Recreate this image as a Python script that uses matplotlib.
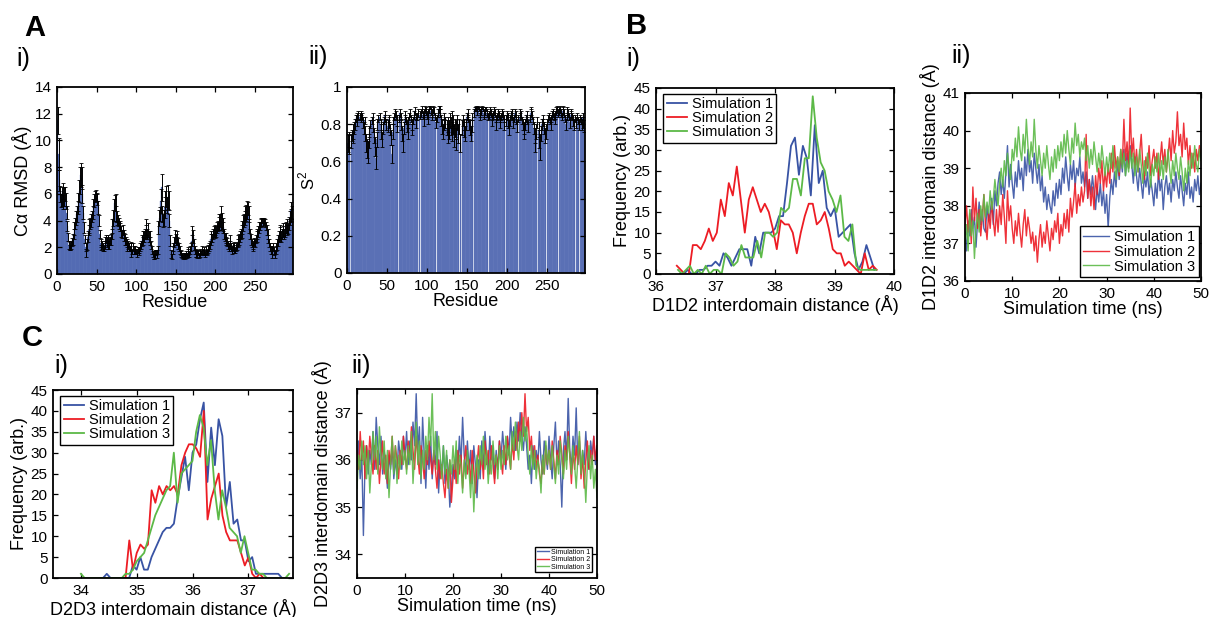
import numpy as np
import matplotlib
matplotlib.use("Agg")
import matplotlib.pyplot as plt

plt.rcParams['font.family'] = ['Liberation Sans', 'DejaVu Sans']
plt.rcParams['mathtext.fontset'] = 'custom'
plt.rcParams['mathtext.rm'] = 'Liberation Sans'

# ---- data: A i) C-alpha RMSD per residue ----
rmsd = [11.5, 9.0, 7.0, 6.0, 5.5, 5.8, 6.2, 5.4, 5.8, 6.0,
        5.5, 4.6, 3.6, 2.8, 2.2, 2.0, 2.1, 2.2, 2.4, 2.6,
        3.0, 3.4, 3.8, 4.2, 4.5, 5.0, 5.4, 6.2, 7.0, 7.4,
        7.2, 6.0, 4.6, 3.5, 2.6, 2.0, 1.6, 2.2, 2.8, 3.3,
        3.6, 3.8, 4.0, 4.3, 4.6, 5.0, 5.5, 5.8, 5.9, 5.8,
        5.6, 5.0, 4.0, 3.0, 2.3, 2.0, 2.2, 2.0, 1.9, 2.2,
        2.5, 2.6, 2.4, 2.6, 2.2, 2.3, 2.5, 2.6, 3.0, 3.6,
        4.2, 4.8, 5.3, 5.0, 4.5, 4.2, 4.0, 3.8, 3.6, 3.5,
        3.2, 3.0, 3.3, 3.0, 2.8, 2.6, 2.5, 2.3, 2.0, 2.2,
        2.0, 1.9, 2.1, 1.8, 1.7, 2.0, 1.8, 1.7, 1.8, 1.7,
        1.6, 1.8, 1.7, 1.8, 2.0, 2.2, 2.5, 2.8, 2.5, 2.8,
        3.0, 3.2, 3.5, 3.0, 3.3, 2.8, 2.5, 2.8, 2.2, 1.8,
        1.5, 1.4, 1.3, 1.5, 1.6, 1.5, 1.8, 3.5, 4.2, 4.5,
        5.5, 6.5, 4.5, 4.0, 4.2, 5.0, 5.5, 5.8, 5.2, 5.8,
        5.5, 4.0, 2.5, 1.5, 1.3, 1.8, 2.0, 2.4, 2.8, 2.6,
        2.8, 2.5, 2.3, 2.0, 1.8, 1.6, 1.5, 1.4, 1.3, 1.4,
        1.4, 1.3, 1.5, 1.4, 1.6, 1.7, 1.5, 1.8, 2.0, 2.5,
        3.0, 2.8, 2.2, 1.8, 1.6, 1.5, 1.5, 1.6, 1.4, 1.5,
        1.7, 1.6, 1.8, 1.7, 1.6, 1.7, 1.5, 1.8, 1.6, 1.7,
        1.9, 2.0, 2.2, 2.6, 2.8, 2.7, 3.0, 3.2, 3.0, 3.3,
        3.2, 3.5, 3.6, 3.8, 3.9, 4.0, 4.2, 4.0, 3.7, 3.5,
        3.0, 2.8, 2.5, 2.7, 2.4, 2.2, 2.0, 2.2, 2.5, 2.0,
        1.8, 2.0, 2.1, 1.9, 1.8, 2.0, 2.1, 2.3, 2.5, 2.6,
        2.8, 3.0, 3.2, 3.5, 3.8, 4.0, 4.2, 4.5, 4.6, 4.8,
        4.9, 4.5, 3.6, 3.0, 2.6, 2.3, 2.0, 2.2, 2.4, 2.3,
        2.6, 2.8, 3.0, 3.2, 3.5, 3.6, 3.8, 3.9, 4.0, 3.9,
        4.0, 3.9, 3.8, 3.6, 3.3, 3.0, 2.6, 2.3, 2.0, 1.8,
        1.6, 1.8, 2.0, 1.7, 1.5, 1.8, 2.0, 2.2, 2.5, 2.8,
        3.0, 3.2, 2.8, 3.0, 3.3, 3.2, 3.0, 3.3, 3.5, 3.3,
        3.6, 3.4, 3.8, 4.2, 4.8, 4.4, 4.6]
rmsd_err = [1.0, 1.2, 0.8, 0.6, 0.5, 0.7, 0.6, 0.5, 0.7, 0.5,
            0.6, 0.5, 0.4, 0.3, 0.3, 0.2, 0.3, 0.3, 0.3, 0.4,
            0.4, 0.5, 0.4, 0.5, 0.6, 0.5, 0.7, 0.8, 1.0, 0.9,
            0.8, 0.7, 0.5, 0.4, 0.3, 0.3, 0.3, 0.4, 0.4, 0.4,
            0.5, 0.4, 0.5, 0.4, 0.5, 0.6, 0.5, 0.4, 0.4, 0.3,
            0.4, 0.5, 0.4, 0.3, 0.3, 0.2, 0.3, 0.3, 0.2, 0.3,
            0.3, 0.3, 0.4, 0.3, 0.3, 0.4, 0.3, 0.4, 0.4, 0.5,
            0.6, 0.8, 0.6, 1.0, 0.6, 0.5, 0.4, 0.4, 0.4, 0.3,
            0.4, 0.3, 0.4, 0.3, 0.3, 0.4, 0.3, 0.3, 0.3, 0.3,
            0.3, 0.2, 0.3, 0.5, 0.2, 0.3, 0.3, 0.2, 0.3, 0.2,
            0.3, 0.2, 0.3, 0.2, 0.3, 0.3, 0.4, 0.4, 0.3, 0.4,
            0.4, 0.5, 0.6, 0.4, 0.5, 0.4, 0.3, 0.4, 0.3, 0.3,
            0.2, 0.3, 0.2, 0.3, 0.2, 0.3, 0.3, 0.5, 0.6, 0.5,
            0.9, 1.0, 0.6, 0.5, 0.6, 0.8, 0.7, 0.8, 0.6, 0.9,
            0.7, 0.5, 0.4, 0.3, 0.2, 0.3, 0.3, 0.4, 0.5, 0.4,
            0.4, 0.3, 0.4, 0.3, 0.3, 0.2, 0.2, 0.2, 0.2, 0.2,
            0.2, 0.2, 0.2, 0.2, 0.3, 0.3, 0.2, 0.3, 0.3, 0.4,
            0.6, 0.5, 0.4, 0.3, 0.3, 0.2, 0.3, 0.2, 0.2, 0.2,
            0.2, 0.2, 0.3, 0.2, 0.2, 0.3, 0.2, 0.3, 0.2, 0.2,
            0.3, 0.3, 0.3, 0.4, 0.4, 0.3, 0.4, 0.4, 0.3, 0.4,
            0.4, 0.4, 0.4, 0.5, 0.6, 0.5, 0.9, 0.6, 0.5, 0.4,
            0.4, 0.3, 0.3, 0.4, 0.3, 0.3, 0.3, 0.3, 0.4, 0.3,
            0.3, 0.3, 0.3, 0.3, 0.2, 0.3, 0.3, 0.3, 0.4, 0.4,
            0.4, 0.4, 0.5, 0.5, 0.6, 0.5, 0.5, 0.6, 0.6, 0.7,
            0.5, 0.6, 0.5, 0.4, 0.4, 0.3, 0.3, 0.3, 0.3, 0.3,
            0.3, 0.4, 0.4, 0.4, 0.4, 0.3, 0.3, 0.3, 0.2, 0.3,
            0.2, 0.2, 0.3, 0.3, 0.4, 0.4, 0.3, 0.3, 0.3, 0.3,
            0.4, 0.3, 0.3, 0.3, 0.3, 0.3, 0.3, 0.4, 0.4, 0.4,
            0.5, 0.5, 0.4, 0.4, 0.5, 0.4, 0.4, 0.5, 0.4, 0.4,
            0.5, 0.4, 0.5, 0.5, 0.6, 0.5, 0.5]

# ---- data: A ii) order parameter S2 per residue (0 = no value) ----
s2 = [0.70, 0.72, 0.69, 0.00, 0.71, 0.74, 0.76, 0.73, 0.78, 0.80,
      0.83, 0.84, 0.82, 0.85, 0.00, 0.84, 0.83, 0.85, 0.84, 0.81,
      0.78, 0.82, 0.75, 0.70, 0.67, 0.65, 0.71, 0.76, 0.80, 0.00,
      0.82, 0.84, 0.79, 0.74, 0.68, 0.62, 0.72, 0.80, 0.83, 0.00,
      0.84, 0.80, 0.76, 0.72, 0.78, 0.82, 0.85, 0.83, 0.80, 0.00,
      0.79, 0.83, 0.81, 0.77, 0.73, 0.64, 0.76, 0.82, 0.84, 0.86,
      0.85, 0.82, 0.79, 0.00, 0.83, 0.86, 0.84, 0.80, 0.75, 0.70,
      0.78, 0.83, 0.85, 0.82, 0.79, 0.76, 0.81, 0.84, 0.86, 0.83,
      0.80, 0.77, 0.82, 0.85, 0.87, 0.84, 0.81, 0.84, 0.86, 0.00,
      0.85, 0.00, 0.86, 0.88, 0.85, 0.82, 0.86, 0.88, 0.87, 0.85,
      0.83, 0.86, 0.88, 0.89, 0.87, 0.84, 0.86, 0.88, 0.87, 0.84,
      0.81, 0.00, 0.83, 0.86, 0.88, 0.89, 0.86, 0.82, 0.79, 0.76,
      0.80, 0.84, 0.81, 0.00, 0.78, 0.75, 0.80, 0.77, 0.82, 0.79,
      0.76, 0.83, 0.80, 0.74, 0.78, 0.72, 0.77, 0.81, 0.75, 0.79,
      0.00, 0.70, 0.00, 0.78, 0.82, 0.80, 0.77, 0.75, 0.80, 0.84,
      0.86, 0.83, 0.80, 0.78, 0.75, 0.79, 0.84, 0.00, 0.86, 0.88,
      0.89, 0.88, 0.87, 0.89, 0.88, 0.86, 0.84, 0.87, 0.89, 0.88,
      0.86, 0.85, 0.87, 0.88, 0.86, 0.84, 0.00, 0.85, 0.87, 0.86,
      0.84, 0.82, 0.85, 0.87, 0.86, 0.83, 0.80, 0.84, 0.86, 0.85,
      0.83, 0.81, 0.84, 0.86, 0.85, 0.83, 0.80, 0.00, 0.82, 0.85,
      0.84, 0.81, 0.78, 0.82, 0.85, 0.86, 0.84, 0.81, 0.83, 0.86,
      0.85, 0.82, 0.79, 0.83, 0.00, 0.84, 0.86, 0.85, 0.82, 0.80,
      0.78, 0.76, 0.80, 0.83, 0.85, 0.82, 0.79, 0.00, 0.83, 0.86,
      0.87, 0.85, 0.82, 0.78, 0.74, 0.70, 0.76, 0.81, 0.00, 0.77,
      0.72, 0.68, 0.75, 0.80, 0.83, 0.81, 0.78, 0.74, 0.76, 0.00,
      0.80, 0.83, 0.84, 0.82, 0.80, 0.83, 0.85, 0.86, 0.84, 0.82,
      0.85, 0.87, 0.88, 0.86, 0.00, 0.87, 0.88, 0.86, 0.84, 0.87,
      0.88, 0.86, 0.83, 0.80, 0.84, 0.87, 0.86, 0.84, 0.81, 0.85,
      0.86, 0.84, 0.82, 0.80, 0.83, 0.00, 0.81, 0.84, 0.82, 0.80,
      0.00, 0.83, 0.82, 0.80, 0.84, 0.81, 0.79]
s2_err = [0.05, 0.04, 0.05, 0, 0.04, 0.03, 0.04, 0.03, 0.03, 0.03,
          0.02, 0.02, 0.03, 0.02, 0, 0.02, 0.02, 0.02, 0.02, 0.03,
          0.03, 0.02, 0.04, 0.05, 0.05, 0.06, 0.04, 0.03, 0.02, 0,
          0.02, 0.02, 0.03, 0.04, 0.05, 0.06, 0.04, 0.03, 0.02, 0,
          0.02, 0.03, 0.04, 0.04, 0.03, 0.02, 0.02, 0.02, 0.03, 0,
          0.03, 0.02, 0.03, 0.03, 0.04, 0.05, 0.04, 0.02, 0.02, 0.02,
          0.02, 0.03, 0.03, 0, 0.02, 0.02, 0.02, 0.03, 0.04, 0.05,
          0.03, 0.02, 0.02, 0.02, 0.03, 0.04, 0.03, 0.02, 0.02, 0.02,
          0.03, 0.03, 0.02, 0.02, 0.02, 0.02, 0.03, 0.02, 0.02, 0,
          0.02, 0, 0.02, 0.02, 0.02, 0.03, 0.02, 0.02, 0.02, 0.02,
          0.03, 0.02, 0.02, 0.01, 0.02, 0.02, 0.02, 0.02, 0.02, 0.02,
          0.03, 0, 0.02, 0.02, 0.02, 0.01, 0.02, 0.03, 0.04, 0.04,
          0.03, 0.02, 0.03, 0, 0.04, 0.05, 0.04, 0.05, 0.04, 0.05,
          0.05, 0.04, 0.05, 0.06, 0.05, 0.06, 0.05, 0.04, 0.05, 0.04,
          0, 0.05, 0, 0.04, 0.03, 0.03, 0.04, 0.04, 0.03, 0.02,
          0.02, 0.02, 0.03, 0.04, 0.04, 0.03, 0.02, 0, 0.02, 0.01,
          0.01, 0.01, 0.02, 0.01, 0.01, 0.02, 0.02, 0.02, 0.01, 0.01,
          0.02, 0.02, 0.02, 0.01, 0.02, 0.02, 0, 0.02, 0.02, 0.02,
          0.02, 0.03, 0.02, 0.02, 0.02, 0.02, 0.03, 0.02, 0.02, 0.02,
          0.02, 0.03, 0.02, 0.02, 0.02, 0.02, 0.03, 0, 0.03, 0.02,
          0.02, 0.03, 0.04, 0.03, 0.02, 0.02, 0.02, 0.03, 0.02, 0.02,
          0.02, 0.02, 0.03, 0.02, 0, 0.02, 0.02, 0.02, 0.02, 0.03,
          0.03, 0.04, 0.03, 0.02, 0.02, 0.02, 0.03, 0, 0.02, 0.02,
          0.02, 0.02, 0.02, 0.03, 0.04, 0.05, 0.04, 0.03, 0, 0.04,
          0.05, 0.07, 0.04, 0.03, 0.02, 0.02, 0.03, 0.04, 0.04, 0,
          0.03, 0.02, 0.02, 0.02, 0.03, 0.02, 0.02, 0.02, 0.02, 0.02,
          0.02, 0.02, 0.02, 0.02, 0, 0.02, 0.02, 0.02, 0.02, 0.02,
          0.02, 0.02, 0.02, 0.03, 0.02, 0.02, 0.02, 0.02, 0.03, 0.02,
          0.02, 0.02, 0.03, 0.03, 0.02, 0, 0.03, 0.02, 0.02, 0.03,
          0, 0.02, 0.02, 0.03, 0.02, 0.03, 0.03]

# ---- data: B i) D1D2 distance histograms (first/last bin centre, counts) ----
b_hist_range = {'sim1': (36.40, 39.67), 'sim2': (36.35, 39.71), 'sim3': (36.37, 39.70)}
b_hist_sim1 = [0, 0, 1, 0, 0, 1, 1, 2, 2, 3, 2, 5, 4, 2, 4, 6, 6, 6, 2, 9,
               5, 10, 10, 10, 11, 14, 14, 22, 31, 33, 24, 31, 28, 19, 36, 22, 25, 16, 14, 16,
               9, 10, 11, 12, 5, 1, 3, 7, 4, 1]
b_hist_sim2 = [2, 1, 0, 0, 7, 7, 6, 8, 11, 8, 10, 18, 14, 22, 19, 26, 18, 10, 18, 21,
               18, 15, 17, 15, 11, 6, 13, 12, 12, 10, 5, 10, 14, 17, 17, 12, 13, 15, 11, 6,
               5, 5, 2, 3, 2, 1, 0, 5, 1, 2, 1]
b_hist_sim3 = [1, 0, 1, 2, 0, 1, 0, 2, 0, 1, 1, 0, 5, 4, 2, 3, 7, 4, 4, 4,
               8, 4, 10, 10, 9, 10, 16, 15, 16, 23, 23, 19, 28, 28, 43, 33, 27, 25, 20, 18,
               15, 19, 9, 8, 12, 2, 1, 1, 1, 1, 1]

# ---- data: C i) D2D3 distance histograms ----
c_hist_range = {'sim1': (34.33, 37.67), 'sim2': (34.80, 37.27), 'sim3': (34.00, 37.73)}
c_hist_sim1 = [0, 0, 1, 0, 0, 0, 0, 0, 0, 3, 2, 5, 2, 2, 5, 7, 9, 11, 12, 12,
               13, 19, 24, 29, 21, 30, 32, 38, 42, 23, 36, 27, 38, 34, 17, 23, 13, 14, 9, 9,
               4, 5, 1, 1, 1, 1, 1, 1, 1, 0, 0]
c_hist_sim2 = [0, 9, 2, 6, 8, 7, 8, 21, 18, 22, 20, 22, 21, 22, 20, 27, 30, 32, 32, 31,
               29, 40, 14, 19, 22, 25, 15, 11, 9, 9, 9, 6, 3, 5, 1, 0, 1, 0]
c_hist_sim3 = [1, 0, 0, 0, 0, 0, 0, 0, 0, 0, 0, 0, 1, 1, 2, 4, 5, 6, 9, 12,
               15, 17, 19, 21, 22, 30, 18, 25, 26, 27, 28, 35, 39, 36, 27, 33, 21, 14, 21, 17,
               12, 11, 10, 6, 10, 6, 2, 2, 1, 1, 0, 0, 0, 0, 0, 0, 1]

# ---- data: B ii) D1D2 distance vs time (0-50 ns) ----
b_time_sim1 = [37.3, 36.8, 37.6, 37.2, 37.9, 37.4, 37.7, 36.9, 37.6, 38.1, 37.5, 37.9, 37.4, 37.3, 38.0, 37.6,
               37.8, 38.2, 37.5, 38.4, 38.0, 38.6, 38.9, 38.3, 38.7, 38.2, 38.9, 39.6, 38.5, 39.1, 38.6,
               38.2, 38.9, 38.5, 39.2, 38.7, 39.0, 38.4, 39.3, 38.8, 39.5, 38.9, 39.2, 38.6, 39.4, 39.0,
               38.6, 39.1, 38.4, 38.8, 38.1, 38.5, 37.9, 38.3, 38.0, 37.8, 38.4, 38.0, 38.6, 38.2, 38.7,
               38.3, 39.0, 38.6, 39.3, 38.8, 38.4, 39.1, 38.7, 39.2, 38.5, 39.0, 38.8, 39.3, 38.6, 38.9,
               38.5, 38.9, 38.2, 38.7, 38.3, 38.8, 38.4, 37.9, 38.5, 38.1, 38.6, 38.0, 38.4, 37.8, 38.3,
               37.4, 38.2, 38.7, 38.3, 38.9, 38.5, 39.2, 38.7, 39.3, 38.9, 39.5, 38.8, 39.4, 39.0, 39.6,
               39.1, 38.6, 39.3, 38.8, 38.4, 39.0, 38.6, 38.2, 38.8, 38.5, 38.9, 38.3, 38.7, 38.4, 38.0,
               38.6, 38.2, 38.9, 38.4, 38.7, 37.9, 38.5, 38.8, 38.3, 38.6, 38.1, 38.7, 38.4, 38.9, 38.5,
               38.2, 38.8, 38.4, 38.0, 38.6, 38.3, 38.9, 38.2, 38.5, 38.1, 38.7, 38.4, 38.8, 38.3, 38.6]
b_time_sim2 = [37.5, 38.0, 37.3, 37.8, 37.0, 38.5, 37.6, 38.2, 37.4, 37.9, 37.2, 37.7, 38.3, 37.5, 37.1, 37.8,
               37.4, 38.1, 37.6, 37.2, 37.9, 37.3, 38.0, 37.5, 38.3, 37.7, 37.0, 38.4, 37.6, 38.0, 37.4,
               37.0, 37.6, 37.2, 37.8, 37.3, 36.9, 37.5, 37.9, 37.2, 37.7, 37.4, 37.0, 37.3, 36.8, 37.2,
               36.5, 37.1, 37.5, 36.9, 37.3, 37.0, 37.6, 37.2, 36.8, 37.4, 37.1, 37.6, 37.3, 37.8, 37.0,
               37.5, 37.2, 37.8, 37.4, 37.9, 37.3, 38.2, 37.7, 38.1, 38.6, 37.8, 38.3, 38.0, 38.5, 38.1,
               38.4, 39.9, 38.2, 38.7, 38.0, 38.5, 37.9, 38.8, 38.3, 39.0, 38.6, 39.2, 38.4, 38.9, 38.5,
               39.1, 38.6, 39.4, 38.9, 39.6, 39.0, 39.3, 38.8, 39.5, 39.1, 40.3, 39.2, 39.7, 39.0, 40.6,
               39.3, 39.8, 39.0, 39.5, 38.9, 39.4, 39.9, 39.1, 38.7, 39.3, 39.0, 39.6, 38.8, 39.2, 39.5,
               39.0, 39.4, 38.7, 39.2, 39.7, 39.1, 39.5, 38.9, 39.3, 39.8, 39.2, 40.0, 39.4, 39.7, 40.5,
               39.6, 39.9, 39.3, 40.2, 39.5, 39.8, 39.1, 39.6, 39.0, 39.4, 38.9, 39.5, 39.2, 39.6, 39.3]
b_time_sim3 = [37.0, 37.5, 36.8, 37.9, 37.2, 37.6, 36.6, 37.4, 37.8, 37.3, 38.0, 37.6, 38.3, 37.7, 38.1, 37.8,
               38.4, 37.9, 38.2, 38.7, 38.3, 38.0, 38.6, 39.0, 38.5, 39.2, 38.8, 39.4, 39.0, 38.7, 39.5,
               39.2, 39.8, 39.3, 40.1, 39.5, 39.2, 39.9, 39.4, 40.3, 39.6, 39.1, 39.7, 39.3, 40.3, 39.5,
               39.0, 39.6, 39.2, 38.8, 39.4, 39.0, 39.6, 39.1, 38.7, 39.3, 38.9, 39.5, 39.0, 39.6, 39.2,
               39.7, 39.3, 39.9, 39.4, 40.0, 39.5, 39.1, 39.8, 39.4, 40.2, 39.6, 39.9, 39.3, 39.7, 39.5,
               39.8, 39.2, 39.6, 39.0, 39.5, 39.1, 39.7, 39.3, 38.9, 39.4, 39.0, 39.6, 39.2, 38.8, 39.3,
               38.9, 39.4, 39.0, 39.6, 39.1, 38.7, 39.3, 38.9, 39.5, 39.0, 39.4, 38.8, 39.2, 38.9, 39.5,
               39.0, 39.4, 38.8, 39.3, 38.9, 39.5, 39.1, 38.6, 39.2, 38.8, 39.4, 39.0, 38.5, 39.1, 38.8,
               39.3, 38.9, 39.4, 38.8, 39.2, 38.7, 39.3, 38.9, 39.5, 39.0, 38.6, 39.2, 38.8, 39.4, 39.0,
               38.7, 39.3, 38.9, 38.4, 39.0, 38.6, 39.2, 38.8, 39.4, 39.0, 39.6, 39.1, 38.9, 39.5, 39.2]

# ---- data: C ii) D2D3 distance vs time (0-50 ns) ----
c_time_sim1 = [35.8, 36.4, 35.6, 36.1, 34.4, 35.9, 36.3, 35.7, 36.2, 35.9, 36.6, 35.8, 36.9, 36.3, 35.9, 36.5,
               35.7, 36.2, 35.9, 35.4, 36.1, 35.8, 36.3, 35.6, 36.0, 35.7, 36.4, 36.1, 35.8, 36.5, 36.0,
               36.6, 35.9, 36.4, 36.0, 36.8, 36.3, 37.4, 36.2, 36.7, 35.5, 36.9, 36.1, 35.4, 36.3, 35.8,
               36.5, 35.6, 36.2, 35.9, 36.6, 35.3, 36.0, 35.7, 36.3, 35.5, 36.1, 35.8, 35.0, 35.4, 35.9,
               35.6, 36.2, 35.8, 36.5, 35.9, 36.9, 36.1, 35.7, 36.4, 35.8, 36.2, 35.5, 36.3, 35.9, 35.2,
               36.0, 35.6, 36.4, 35.8, 36.6, 36.1, 35.7, 36.5, 36.0, 36.3, 35.6, 36.2, 35.8, 36.4, 36.0,
               36.6, 36.2, 35.8, 36.5, 36.1, 36.9, 36.3, 36.7, 36.2, 36.8, 36.4, 37.0, 36.5, 36.2, 36.7,
               36.3, 35.8, 36.1, 35.5, 36.3, 35.8, 36.2, 35.9, 36.6, 36.0, 35.7, 36.4, 36.1, 35.8, 36.5,
               36.0, 35.6, 36.3, 36.8, 35.9, 36.4, 35.9, 35.0, 36.2, 36.6, 36.0, 37.3, 36.2, 35.8, 36.5,
               36.1, 37.1, 35.9, 36.4, 35.7, 36.2, 35.9, 36.6, 36.0, 35.8, 36.4, 36.1, 36.5, 35.9, 36.3]
c_time_sim2 = [36.2, 35.8, 36.6, 36.0, 36.4, 35.6, 36.3, 35.9, 36.5, 36.1, 35.7, 36.3, 35.8, 36.2, 35.5, 36.0,
               36.4, 35.7, 36.1, 35.5, 36.2, 35.9, 36.5, 35.8, 36.3, 36.0, 35.6, 36.2, 35.9, 36.5, 36.1,
               35.8, 36.4, 36.0, 36.7, 36.2, 35.8, 36.5, 36.1, 35.7, 36.3, 36.0, 35.6, 36.2, 35.9, 36.4,
               36.0, 35.7, 36.2, 35.8, 35.4, 36.0, 35.6, 35.9, 35.5, 35.2, 35.8, 35.4, 36.0, 35.1, 35.6,
               36.0, 35.5, 36.2, 35.7, 36.1, 35.4, 35.9, 36.3, 35.7, 36.0, 35.5, 36.2, 35.8, 35.3, 35.9,
               36.3, 35.8, 36.1, 35.6, 36.4, 35.9, 36.2, 35.7, 36.3, 35.9, 35.5, 36.1, 35.8, 36.4, 36.0,
               35.7, 36.3, 35.9, 36.5, 36.1, 35.8, 36.4, 36.0, 36.6, 36.2, 36.8, 36.4, 37.0, 36.5, 37.4,
               36.6, 36.9, 36.2, 36.5, 35.9, 36.3, 35.8, 36.1, 35.7, 35.5, 36.0, 35.7, 36.3, 35.9, 36.2,
               35.8, 36.4, 36.0, 35.6, 36.2, 35.9, 36.5, 36.1, 35.7, 36.3, 36.0, 36.6, 36.1, 35.5, 36.2,
               35.8, 36.3, 35.9, 36.5, 35.6, 36.1, 35.4, 36.0, 36.4, 35.8, 36.2, 35.9, 36.5, 36.0, 36.3]
c_time_sim3 = [35.4, 36.1, 35.8, 36.4, 35.9, 36.3, 35.6, 36.2, 35.3, 35.9, 36.6, 36.0, 36.5, 35.7, 36.7, 36.1,
               35.8, 36.4, 35.6, 36.2, 35.2, 35.9, 36.5, 35.7, 36.3, 35.5, 36.1, 35.8, 36.4, 35.9, 36.2,
               35.7, 36.3, 35.9, 36.6, 35.5, 36.1, 36.8, 35.9, 36.4, 35.6, 36.2, 35.8, 36.5, 36.0, 36.9,
               36.3, 37.4, 36.0, 36.6, 35.8, 36.5, 36.1, 35.6, 36.3, 35.7, 36.2, 35.4, 36.0, 35.7, 36.3,
               35.8, 36.4, 35.5, 36.1, 35.9, 35.3, 36.0, 35.6, 36.2, 35.8, 35.2, 35.9, 34.9, 35.7, 36.1,
               35.6, 36.3, 35.9, 36.5, 35.8, 36.2, 35.5, 36.0, 35.7, 36.4, 35.9, 36.1, 35.6, 36.3, 35.8,
               36.2, 35.9, 36.5, 36.0, 36.3, 35.8, 36.6, 36.2, 36.8, 36.3, 36.0, 36.6, 36.2, 36.9, 36.4,
               36.7, 36.1, 35.7, 36.3, 35.8, 36.2, 35.6, 36.0, 35.8, 35.3, 36.1, 35.7, 36.4, 35.9, 36.2,
               35.8, 36.3, 35.9, 35.5, 36.1, 35.7, 36.4, 36.0, 35.6, 36.2, 35.8, 36.5, 36.1, 35.7, 36.3,
               35.9, 35.4, 36.0, 36.6, 35.7, 36.2, 35.8, 35.1, 35.9, 36.3, 35.6, 36.1, 35.4, 35.8, 35.2]

sim_labels = ['Simulation 1', 'Simulation 2', 'Simulation 3']
sim_colors = ['#3853a4', '#ed1c24', '#5cb947']
bar_color = '#3d57a6'

W, H = 1209, 617
fig = plt.figure(figsize=(W / 100, H / 100), dpi=100)


def px_axes(left, top, right, bottom):
    return fig.add_axes([left / W, 1 - bottom / H, (right - left) / W, (bottom - top) / H])


def style(ax):
    for sp in ax.spines.values():
        sp.set_linewidth(1.3)
    ax.tick_params(direction='in', top=True, right=True, length=3.5, width=0.9,
                   labelsize=11, pad=4)


label_fs = 13

# A i
ax = px_axes(57, 87, 293, 274)
res = np.arange(1, len(rmsd) + 1)
ax.bar(res, rmsd, width=1.0, color=bar_color, edgecolor='#6f84c4', linewidth=0.25)
ax.errorbar(res, rmsd, yerr=rmsd_err, fmt='none', ecolor='black', elinewidth=0.7,
            capsize=1.2, capthick=0.6)
ax.set_xlim(0, 298)
ax.set_ylim(0, 14)
ax.set_xticks([0, 50, 100, 150, 200, 250])
ax.set_yticks(range(0, 15, 2))
ax.set_xlabel('Residue', fontsize=label_fs, labelpad=0)
ax.set_ylabel('Cα RMSD (Å)', fontsize=label_fs, labelpad=2)
style(ax)

# A ii
ax = px_axes(347, 87, 585, 273)
res2 = np.arange(1, len(s2) + 1)
s2a = np.array(s2)
s2e = np.array(s2_err)
ax.bar(res2, s2a, width=1.0, color=bar_color, edgecolor='#7d90c9', linewidth=0.25)
m = s2a > 0
ax.errorbar(res2[m], s2a[m], yerr=s2e[m], fmt='none', ecolor='black', elinewidth=0.7,
            capsize=1.2, capthick=0.6)
ax.set_xlim(0, 298)
ax.set_ylim(0, 1)
ax.set_xticks([0, 50, 100, 150, 200, 250])
ax.set_yticks([0, 0.2, 0.4, 0.6, 0.8, 1])
ax.set_yticklabels(['0', '0.2', '0.4', '0.6', '0.8', '1'])
ax.set_xlabel('Residue', fontsize=label_fs, labelpad=0)
ax.set_ylabel('S$^2$', fontsize=label_fs - 1, labelpad=2)
style(ax)


def hist_panel(ax, series, ranges):
    for (key, y), lab, col in zip(series, sim_labels, sim_colors):
        lo, hi = ranges[key]
        x = np.linspace(lo, hi, len(y))
        ax.plot(x, y, color=col, lw=1.3, label=lab)
    ax.set_ylim(0, 45)
    ax.set_yticks(range(0, 46, 5))
    leg = ax.legend(loc='upper left', fontsize=10.5, handlelength=1.4, handletextpad=0.3,
                    labelspacing=0.0, borderpad=0.25, fancybox=False, framealpha=1,
                    bbox_to_anchor=(0.03, 0.97), borderaxespad=0)
    leg.get_frame().set_edgecolor('black')
    leg.get_frame().set_linewidth(1.0)
    ax.set_ylabel('Frequency (arb.)', fontsize=label_fs, labelpad=2)
    style(ax)


# B i
ax = px_axes(656, 88, 894, 274)
hist_panel(ax, [('sim1', b_hist_sim1), ('sim2', b_hist_sim2), ('sim3', b_hist_sim3)], b_hist_range)
ax.set_xlim(36, 40)
ax.set_xticks([36, 37, 38, 39, 40])
ax.set_xlabel('D1D2 interdomain distance (Å)', fontsize=label_fs, labelpad=1)

# C i
ax = px_axes(53, 390, 293, 578)
hist_panel(ax, [('sim1', c_hist_sim1), ('sim2', c_hist_sim2), ('sim3', c_hist_sim3)], c_hist_range)
ax.set_xlim(33.5, 37.8)
ax.set_xticks([34, 35, 36, 37])
ax.set_xlabel('D2D3 interdomain distance (Å)', fontsize=label_fs, labelpad=1)


def time_panel(ax, series, legend_fs, anchor):
    for y, lab, col in zip(series, sim_labels, sim_colors):
        t = np.linspace(0, 50, len(y))
        ax.plot(t, y, color=col, lw=1.0, alpha=0.9, label=lab)
    ax.set_xlim(0, 50)
    ax.set_xticks(range(0, 51, 10))
    leg = ax.legend(loc='lower right', fontsize=legend_fs, handlelength=1.8, handletextpad=0.3,
                    labelspacing=0.05, borderpad=0.25, fancybox=False, framealpha=1,
                    bbox_to_anchor=anchor, borderaxespad=0)
    leg.get_frame().set_edgecolor('black')
    leg.get_frame().set_linewidth(1.0)
    ax.set_xlabel('Simulation time (ns)', fontsize=label_fs, labelpad=0)
    style(ax)


# B ii
ax = px_axes(965, 93, 1201, 281)
time_panel(ax, [b_time_sim1, b_time_sim2, b_time_sim3], 10.5, (0.99, 0.02))
ax.set_ylim(36, 41)
ax.set_yticks(range(36, 42))
ax.set_ylabel('D1D2 interdomain distance (Å)', fontsize=label_fs, labelpad=2)

# C ii
ax = px_axes(357, 389, 597, 578)
time_panel(ax, [c_time_sim1, c_time_sim2, c_time_sim3], 5, (0.98, 0.03))
ax.set_ylim(33.5, 37.5)
ax.set_yticks([34, 35, 36, 37])
ax.set_ylabel('D2D3 interdomain distance (Å)', fontsize=label_fs, labelpad=2)

# panel letters
def px_text(x, y, s, size, weight='normal'):
    fig.text(x / W, 1 - y / H, s, fontsize=size, fontweight=weight, ha='left', va='top')


px_text(24, 14, 'A', 21, 'bold')
px_text(16, 47, 'i)', 18)
px_text(308, 45, 'ii)', 18)
px_text(626, 12, 'B', 21, 'bold')
px_text(626, 47, 'i)', 18)
px_text(951, 44, 'ii)', 18)
px_text(22, 324, 'C', 21, 'bold')
px_text(54, 354, 'i)', 18)
px_text(351, 354, 'ii)', 18)

fig.savefig('out.png', dpi=100)
